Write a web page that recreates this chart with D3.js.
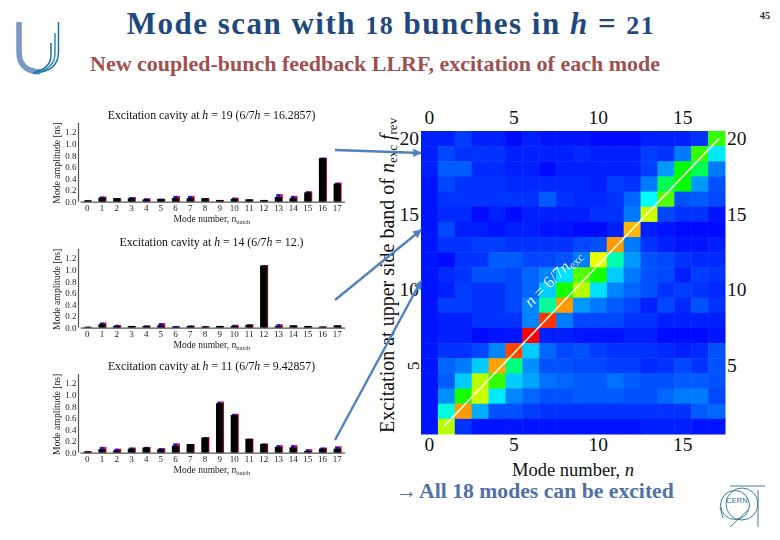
<!DOCTYPE html>
<html>
<head>
<meta charset="utf-8">
<script src="https://cdnjs.cloudflare.com/ajax/libs/d3/7.8.5/d3.min.js"></script>
<style>
html,body{margin:0;padding:0;background:#fff}
svg{display:block}
text{font-family:"Liberation Serif",serif}
</style>
</head>
<body>
<svg id="c" width="780" height="540"></svg>
<script>
// ---------- data ----------
const modes = d3.range(0, 18);
const panelTitles = [
  ["Excitation cavity at ", "h", " = 19 (6/7", "h", " = 16.2857)"],
  ["Excitation cavity at ", "h", " = 14 (6/7", "h", " = 12.)"],
  ["Excitation cavity at ", "h", " = 11 (6/7", "h", " = 9.42857)"]
];
const ampTicks = [0, 0.2, 0.4, 0.6, 0.8, 1.0, 1.2];
const black19 = [.02,.07,.06,.06,.04,.05,.06,.06,.06,.03,.05,.04,.03,.08,.06,.16,.75,.31];
const tips19  = [.03,.09,.06,.08,.06,.05,.10,.10,.06,.03,.07,.04,.03,.13,.10,.18,.76,.33];
const black14 = [.01,.06,.03,.03,.03,.04,.02,.03,.02,.03,.03,.05,1.07,.03,.04,.03,.02,.04];
const tips14  = [.02,.09,.05,.03,.04,.08,.03,.04,.03,.03,.05,.06,1.08,.06,.04,.03,.02,.04];
const black11 = [.02,.06,.04,.07,.09,.06,.12,.15,.26,.85,.65,.24,.15,.10,.09,.03,.07,.07];
const tips11  = [.03,.10,.07,.09,.10,.08,.16,.15,.27,.88,.67,.24,.16,.13,.13,.06,.09,.11];

const bands = d3.range(20, 0, -1);
// one row per upper side band, from 20 (top) down to 1; colour level 0..1
const r20 = [.03,.03,.06,.03,.03,.01,.03,.02,.02,.02,.01,.01,.01,.03,.03,.03,.05,.55];
const r19 = [.03,.07,.05,.05,.05,.03,.03,.03,.03,.04,.03,.03,.03,.06,.05,.12,.55,.23];
const r18 = [.03,.09,.09,.04,.04,.03,.03,.01,.03,.03,.03,.03,.03,.06,.15,.50,.42,.12];
const r17 = [.02,.07,.05,.05,.05,.04,.04,.04,.04,.04,.03,.06,.05,.12,.42,.50,.15,.08];
const r16 = [.02,.05,.05,.05,.05,.05,.05,.09,.05,.04,.04,.05,.10,.25,.58,.08,.09,.07];
const r15 = [.02,.04,.04,.01,.03,.01,.03,.03,.03,.03,.05,.05,.12,.70,.07,.05,.05,.02];
const r14 = [.02,.07,.03,.03,.02,.03,.03,.02,.02,.01,.01,.03,.82,.03,.02,.01,.01,.01];
const r13 = [.02,.05,.05,.06,.06,.05,.05,.05,.05,.07,.08,.85,.12,.05,.03,.02,.02,.03];
const r12 = [.02,.01,.05,.05,.09,.09,.07,.07,.08,.12,.73,.33,.15,.08,.07,.05,.04,.04];
const r11 = [.02,.04,.05,.08,.08,.07,.10,.13,.22,.58,.52,.20,.12,.08,.07,.03,.06,.05];
const r10 = [.02,.03,.06,.05,.05,.07,.10,.20,.52,.68,.22,.13,.10,.08,.05,.06,.05,.04];
const r9  = [.02,.06,.06,.05,.05,.07,.13,.35,.85,.15,.12,.09,.07,.03,.07,.04,.08,.05];
const r8  = [.02,.03,.03,.05,.05,.05,.13,.95,.12,.07,.07,.07,.05,.05,.03,.03,.03,.03];
const r7  = [.02,.03,.03,.01,.02,.02,1.0,.03,.03,.02,.02,.02,.03,.03,.01,.01,.01,.02];
const r6  = [.02,.05,.05,.07,.13,.93,.20,.10,.07,.08,.06,.05,.05,.05,.04,.03,.04,.08];
const r5  = [.02,.10,.12,.20,.84,.38,.14,.08,.08,.07,.07,.06,.06,.04,.05,.07,.05,.08];
const r4  = [.02,.09,.20,.68,.55,.20,.16,.11,.10,.09,.09,.11,.09,.08,.08,.09,.09,.08];
const r3  = [.02,.14,.52,.70,.23,.13,.10,.08,.08,.09,.09,.09,.08,.08,.10,.12,.12,.07];
const r2  = [.02,.28,.85,.17,.08,.08,.06,.05,.05,.05,.05,.05,.05,.05,.05,.05,.09,.10];
const r1  = [.02,.68,.05,.02,.02,.02,.02,.02,.02,.02,.02,.02,.02,.03,.03,.03,.02,.02];
const grid = [r20,r19,r18,r17,r16,r15,r14,r13,r12,r11,r10,r9,r8,r7,r6,r5,r4,r3,r2,r1];
const gridTicksX = [0, 5, 10, 15];
const gridTicksY = [20, 15, 10, 5];

// ---------- drawing ----------
const svg = d3.select("#c");
const defs = svg.append("defs");
defs.append("filter").attr("id","soft").append("feGaussianBlur").attr("stdDeviation",0.4);
const m = defs.append("marker").attr("id","ah").attr("viewBox","0 0 10 10").attr("refX",9).attr("refY",5)
  .attr("markerWidth",4).attr("markerHeight",3.6).attr("orient","auto");
m.append("path").attr("d","M0,0L10,5L0,10Z").attr("fill","#4f81bd");

svg.append("rect").attr("width",780).attr("height",540).attr("fill","#fff");

// header
const title = svg.append("text").attr("x",391).attr("y",34).attr("text-anchor","middle")
  .attr("font-size",31).attr("letter-spacing",1.5).attr("font-weight","bold").attr("fill","#1f497d");
title.append("tspan").text("Mode scan with ");
title.append("tspan").attr("font-size",26).text("18");
title.append("tspan").text(" bunches in ");
title.append("tspan").attr("font-style","italic").text("h");
title.append("tspan").text(" = ");
title.append("tspan").attr("font-size",26).text("21");

svg.append("text").attr("x",375).attr("y",71).attr("text-anchor","middle")
  .attr("font-size",22).attr("font-weight","bold").attr("fill","#a0504e")
  .text("New coupled-bunch feedback LLRF, excitation of each mode");
svg.append("text").attr("x",765).attr("y",19).attr("text-anchor","middle")
  .attr("font-size",10.5).attr("font-weight","bold").attr("fill","#333").text("45");

// U logo
const logo = svg.append("g").attr("fill","none");
logo.append("path").attr("d","M19,22 V52 Q19,71 40,72").attr("stroke","#7b98c4").attr("stroke-width",5.5);
[["M58.5,22 V52 Q58.5,72 33,73","#1f6f9e"],["M55,33 V53 Q55,69 35,73","#2a8fb0"],["M51,43 V55 Q51,68 35,72","#1f6f9e"]]
  .forEach(d => logo.append("path").attr("d",d[0]).attr("stroke",d[1]).attr("stroke-width",1.5));

// bar panels
const panels = [
  {black:black19, tips:tips19, zero:201.7, top:122.5, ty:119, lab:220},
  {black:black14, tips:tips14, zero:327.7, top:249,   ty:245.5, lab:346},
  {black:black11, tips:tips11, zero:452.7, top:374,   ty:370, lab:471}
];
const xBar = d3.scaleBand().domain(modes).range([80, 344.6]).paddingInner(0.5).paddingOuter(0.25);
panels.forEach((p,i) => {
  const g = svg.append("g").attr("filter","url(#soft)");
  const y = d3.scaleLinear().domain([0,1.2]).range([p.zero, p.zero-69.7]);
  const bw = xBar.bandwidth();
  g.selectAll(".red").data(modes).join("rect")
    .attr("x",d=>xBar(d)+bw*0.55).attr("width",bw*0.55).attr("y",d=>y(p.tips[d])).attr("height",d=>y(0)-y(p.tips[d])).attr("fill","#e01040");
  g.selectAll(".blue").data(modes).join("rect")
    .attr("x",d=>xBar(d)+bw*0.2).attr("width",bw*0.5).attr("y",d=>y(p.tips[d])).attr("height",d=>y(0)-y(p.tips[d])).attr("fill","#2010e0");
  g.selectAll(".black").data(modes).join("rect")
    .attr("x",d=>xBar(d)).attr("width",bw).attr("y",d=>y(p.black[d])).attr("height",d=>y(0)-y(p.black[d])).attr("fill","#000");
  const ax = g.append("g").attr("transform",`translate(0,${p.zero})`)
    .call(d3.axisBottom(xBar).tickSize(0).tickPadding(2.5));
  ax.select(".domain").attr("stroke","#555").attr("stroke-width",1.2);
  ax.selectAll("text").attr("font-size",9).attr("fill","#222").style("font-family",'"Liberation Serif",serif');
  const ay = g.append("g").attr("transform","translate(78.5,0)")
    .call(d3.axisLeft(y).tickValues(ampTicks).tickFormat(d3.format(".1f")).tickSize(0).tickPadding(2));
  ay.select(".domain").attr("d",`M0,${p.top}V${p.zero}`).attr("stroke","#555").attr("stroke-width",1.2);
  ay.selectAll("text").attr("font-size",9).attr("fill","#222").style("font-family",'"Liberation Serif",serif');
  // titles and labels
  const t = g.append("text").attr("x",211.5).attr("y",p.ty).attr("text-anchor","middle").attr("font-size",11.8).attr("fill","#111");
  panelTitles[i].forEach((s,k)=>t.append("tspan").attr("font-style",k%2?"italic":"normal").text(s));
  const xl = g.append("text").attr("x",212).attr("y",p.lab+2).attr("text-anchor","middle").attr("font-size",9.5).attr("fill","#222");
  xl.append("tspan").text("Mode number, ");
  xl.append("tspan").attr("font-style","italic").text("n");
  xl.append("tspan").attr("font-size",6.5).attr("dy",1.5).text("batch");
  g.append("text").attr("transform",`translate(60,${(p.zero+p.top)/2+1}) rotate(-90)`).attr("text-anchor","middle")
    .attr("font-size",9.7).attr("fill","#222").text("Mode amplitude [ns]");
});

// heat map
const xH = d3.scaleBand().domain(modes).range([421,725]);
const yH = d3.scaleBand().domain(bands).range([131,434]);
const colour = d3.scaleLinear().domain([0,.25,.5,.75,1])
  .range(["#0000ff","#00ffff","#00ff00","#ffff00","#ff0000"]).clamp(true);
const heat = svg.append("g");
grid.forEach((row,ri) => {
  heat.selectAll(null).data(row).join("rect")
    .attr("x",(d,ci)=>xH(ci)).attr("y",yH(bands[ri]))
    .attr("width",xH.bandwidth()+0.5).attr("height",yH.bandwidth()+0.5)
    .attr("fill",d=>colour(d));
});
// n = 6/7 h guide, computed from the scales
const xN = d3.scaleLinear().domain([0,17]).range([xH(0)+xH.bandwidth()/2, xH(17)+xH.bandwidth()/2]);
const yN = d3.scaleLinear().domain([1,20]).range([yH(1)+yH.bandwidth()/2, yH(20)+yH.bandwidth()/2]);
const guide = [1,20];
svg.append("path").attr("d",d3.line().x(d=>xN(d*6/7)).y(d=>yN(d))(guide))
  .attr("stroke","#fff8d8").attr("stroke-width",1.6).attr("fill","none");

const rot = svg.append("text").attr("transform","translate(531,308) rotate(-45)")
  .attr("font-size",17).attr("fill","#fff").attr("opacity",0.9);
rot.append("tspan").attr("font-style","italic").text("n");
rot.append("tspan").text(" = 6/7");
rot.append("tspan").attr("font-style","italic").text("n");
rot.append("tspan").attr("font-size",12).attr("dy",3).text("exc");

const fontAxis = s => s.select(".domain").remove();
const axStyle = (g,fs) => g.selectAll("text").attr("font-size",fs).attr("fill","#111").style("font-family",'"Liberation Serif",serif');
svg.append("g").attr("transform","translate(0,131)")
  .call(d3.axisTop(xH).tickValues(gridTicksX).tickSize(0).tickPadding(7)).call(fontAxis).call(axStyle,19.5);
svg.append("g").attr("transform","translate(0,434)")
  .call(d3.axisBottom(xH).tickValues(gridTicksX).tickSize(0).tickPadding(3.5)).call(fontAxis).call(axStyle,19.5);
svg.append("g").attr("transform","translate(725,0)")
  .call(d3.axisRight(yH).tickValues(gridTicksY).tickSize(0).tickPadding(2)).call(fontAxis).call(axStyle,19.5);
const leftA = svg.append("g").attr("transform","translate(421,0)")
  .call(d3.axisLeft(yH).tickValues(gridTicksY).tickSize(0).tickPadding(2)).call(fontAxis).call(axStyle,19.5);
// the "5" on the left axis is turned sideways in the reference
leftA.selectAll(".tick").filter(d=>d===5).select("text")
  .attr("x",0).attr("dy",0).attr("text-anchor","middle").attr("font-size",17).attr("transform","translate(-2,0) rotate(-90)");

const xlab = svg.append("text").attr("x",573).attr("y",476).attr("text-anchor","middle").attr("font-size",18.5).attr("fill","#111");
xlab.append("tspan").text("Mode number, ");
xlab.append("tspan").attr("font-style","italic").text("n");

const ylab = svg.append("text").attr("transform","translate(394,433) rotate(-90)").attr("font-size",20).attr("fill","#111");
ylab.append("tspan").text("Excitation at upper side band of ");
ylab.append("tspan").attr("font-style","italic").text("n");
ylab.append("tspan").attr("font-size",13).attr("dy",3).text("exc");
ylab.append("tspan").attr("dy",-3).text(" ");
ylab.append("tspan").attr("font-style","italic").text("f");
ylab.append("tspan").attr("font-size",13).attr("dy",3).text("rev");

// arrows from panels to rows of the map
const arrows = [[335,150,421,153],[335,300,421,230],[335,440,421,281]];
svg.selectAll(".arr").data(arrows).join("line")
  .attr("x1",d=>d[0]).attr("y1",d=>d[1]).attr("x2",d=>d[2]).attr("y2",d=>d[3])
  .attr("stroke","#4f81bd").attr("stroke-width",2.4).attr("marker-end","url(#ah)");

// bottom note
svg.append("text").attr("x",396).attr("y",498).attr("font-size",21).attr("fill","#4f72a6").text("→");
svg.append("text").attr("x",419).attr("y",498).attr("font-size",21.7).attr("font-weight","bold").attr("fill","#4f72a6")
  .text("All 18 modes can be excited");

// CERN logo
const cern = svg.append("g").attr("fill","none").attr("stroke","#2f6f94").attr("stroke-width",0.9);
cern.append("circle").attr("cx",735).attr("cy",505).attr("r",14.5);
cern.append("circle").attr("cx",742).attr("cy",504).attr("r",16);
cern.append("path").attr("d","M730,486 H765 M758,490 V527 M748,510 L730,527 M720,507 L723,518");
svg.append("text").attr("x",737).attr("y",503).attr("text-anchor","middle").attr("font-size",7.5)
  .attr("fill","#2f6f94").style("font-family",'"Liberation Sans",sans-serif').text("CERN");
</script>
</body>
</html>
